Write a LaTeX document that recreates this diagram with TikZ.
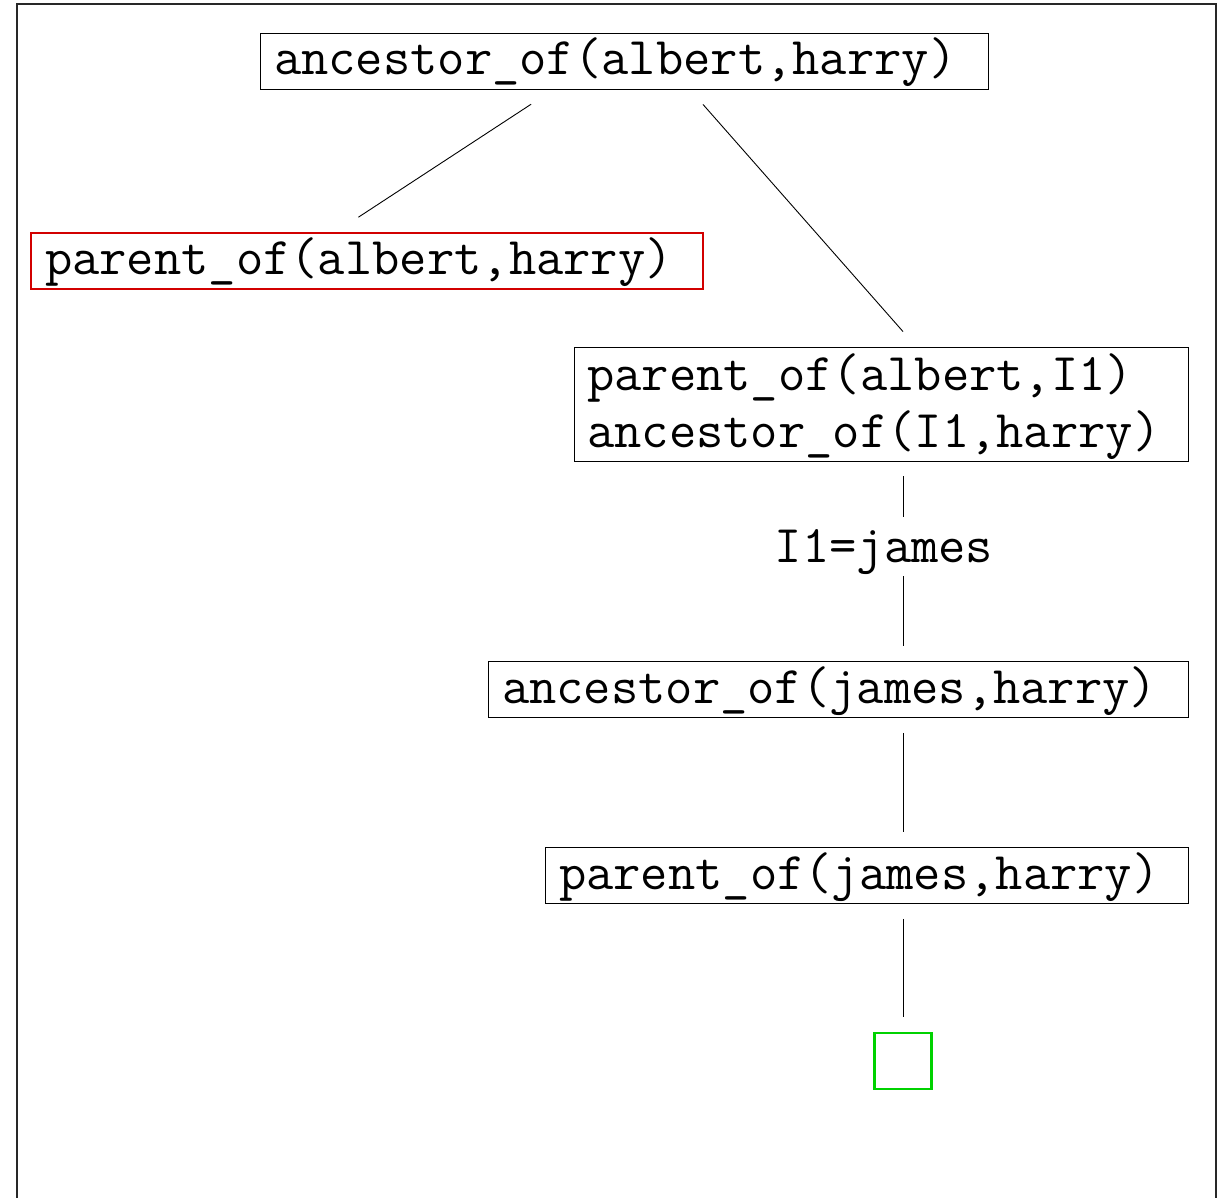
\documentclass[tikz,border=0pt]{standalone}
\usepackage{fontspec}
\definecolor{failred}{RGB}{210,0,0}
\definecolor{okgreen}{RGB}{0,210,0}
\definecolor{framegray}{RGB}{40,40,40}
\newcommand{\goalfont}{\ttfamily\fontsize{53}{57}\selectfont}
\begin{document}
\begin{tikzpicture}[x=1pt,y=-1pt,
  goal/.style={draw, line width=0.9pt, inner ysep=0pt, inner xsep=14pt,
    font=\goalfont, align=left,
    text height=40pt, text depth=12pt, minimum height=56pt},
  failed/.style={goal, draw=failred, line width=2pt},
  goalbox/.style={draw, line width=0.9pt, inner sep=0pt},
  goalline/.style={anchor=base west, inner sep=0pt, font=\goalfont},
  success/.style={draw=okgreen, line width=2.6pt, inner sep=0pt,
    minimum width=57pt, minimum height=56pt},
  edgelabel/.style={inner sep=0pt, font=\goalfont},
  conn/.style={line width=0.9pt}]
\useasboundingbox (0,0) rectangle (1218,1198);
% open frame round the tree
\draw[framegray, line width=2pt] (17,1198) -- (17,4) -- (1216,4) -- (1216,1198);

% goals of the resolution tree
\node[goal, text width=700pt] (top) at (624,61) {ancestor\_of(albert,harry)};
\node[failed, text width=644pt] (pa) at (367,261) {parent\_of(albert,harry)};
\node[goalbox, minimum width=614pt, minimum height=114pt] (two) at (881,404) {};
\node[goalline] (twoa) at (587,390) {parent\_of(albert,I1)};
\node[goalline] (twob) at (587,447) {ancestor\_of(I1,harry)};
\node[edgelabel, anchor=base] (lbl) at (884,562) {I1=james};
\node[goal, text width=672pt] (anc) at (838,689.5) {ancestor\_of(james,harry)};
\node[goal, text width=615pt] (par) at (866.5,875.5) {parent\_of(james,harry)};
\node[success] (done) at (903,1061) {};

% branches
\draw[conn, shorten <=27pt, shorten >=27pt] ([xshift=-70.3pt]top.south) -- ([xshift=-31.2pt]pa.north);
\draw[conn, shorten <=20pt, shorten >=20pt] ([xshift=65.8pt]top.south) -- ([xshift=35.2pt]two.north);
\draw[conn] ([xshift=22pt,yshift=-15pt]two.south) -- ([xshift=19pt,yshift=45pt]lbl.base);
\draw[conn] ([xshift=19pt,yshift=-14pt]lbl.base) -- ([xshift=65pt,yshift=15pt]anc.north);
\draw[conn, shorten <=15pt, shorten >=15pt] ([xshift=65pt]anc.south) -- ([xshift=36.5pt]par.north);
\draw[conn, shorten <=15pt, shorten >=15pt] ([xshift=36.5pt]par.south) -- (done.north);
\end{tikzpicture}
\end{document}
